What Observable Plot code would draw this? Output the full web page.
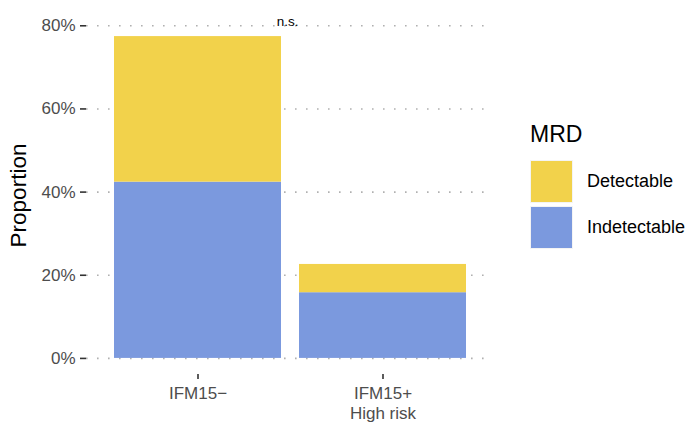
<!DOCTYPE html>
<html>
<head>
<meta charset="utf-8">
<script src="https://cdn.jsdelivr.net/npm/d3@7"></script>
<script src="https://cdn.jsdelivr.net/npm/@observablehq/plot@0.6"></script>
<style>
  body { margin: 0; background: #fff; font-family: "Liberation Sans", Arial, sans-serif; }
  #wrap { position: relative; width: 689px; height: 429px; }
  #legend { position: absolute; left: 530px; top: 118px; font-family: "Liberation Sans", Arial, sans-serif; }
  #legend .title { font-size: 23px; color: #000; height: 40px; line-height: 32px; }
  #legend .row { display: flex; align-items: center; height: 46px; }
  #legend .sw { width: 43px; height: 43px; margin-right: 14px; border: 1px solid #f4f4f4; box-sizing: border-box; }
  #legend .lab { font-size: 18px; color: #000; }
</style>
</head>
<body>
<div id="wrap"><div id="chart"></div><div id="legend"></div></div>
<script>
const groups = ["IFM15−", "IFM15+\nHigh risk"];
const mrdLevels = ["Detectable", "Indetectable"];
const indetectable = [42.4, 15.8];
const detectable = [35.0, 6.8];
const colors = ["#F2D24B", "#7B99DE"];
const yTicks = [0, 20, 40, 60, 80];
const annotation = "n.s.";

const rows = [];
groups.forEach((g, i) => {
  rows.push({group: g, mrd: "Indetectable", value: indetectable[i], order: 0});
  rows.push({group: g, mrd: "Detectable", value: detectable[i], order: 1});
});

const plot = Plot.plot({
  width: 689,
  height: 429,
  marginLeft: 86,
  marginRight: 196,
  marginTop: 20,
  marginBottom: 55,
  style: {fontFamily: "Liberation Sans, Arial, sans-serif", background: "#fff"},
  x: {domain: groups, range: [104.7, 475.7], paddingInner: 0.1, paddingOuter: 0.05, label: null},
  y: {domain: [-3.87, 81.27], label: null},
  color: {domain: mrdLevels, range: colors},
  marks: [
    Plot.ruleY(yTicks, {stroke: "#b0b0b0", strokeWidth: 1.6, strokeDasharray: "1.6,9.4"}),
    Plot.barY(rows, Plot.stackY({x: "group", y: "value", fill: "mrd", order: "order"})),
    Plot.axisY(yTicks, {tickFormat: d => d + "%", tickSize: 6, tickPadding: 5, fontSize: 17, color: "#4d4d4d", stroke: "#333", strokeWidth: 1.6, label: null}),
    Plot.axisX(groups, {tickSize: 5, tickPadding: 5, fontSize: 17, color: "#4d4d4d", stroke: "#333", strokeWidth: 1.6, label: null, lineHeight: 1.2}),
    Plot.text([annotation], {x: () => groups[0], y: () => 81.27, dx: 89.5, text: d => d, fontSize: 13.5, fill: "#000", lineAnchor: "bottom", dy: 5}),
    Plot.text(["Proportion"], {frameAnchor: "left", textAnchor: "middle", dx: -68, dy: -2, rotate: -90, text: d => d, fontSize: 22.5, fill: "#000"})
  ]
});
document.getElementById("chart").appendChild(plot);

const leg = document.getElementById("legend");
leg.innerHTML = `<div class="title">MRD</div>` + mrdLevels.map((m, i) =>
  `<div class="row"><div class="sw" style="background:${colors[i]}"></div><div class="lab">${m}</div></div>`).join("");
</script>
</body>
</html>
